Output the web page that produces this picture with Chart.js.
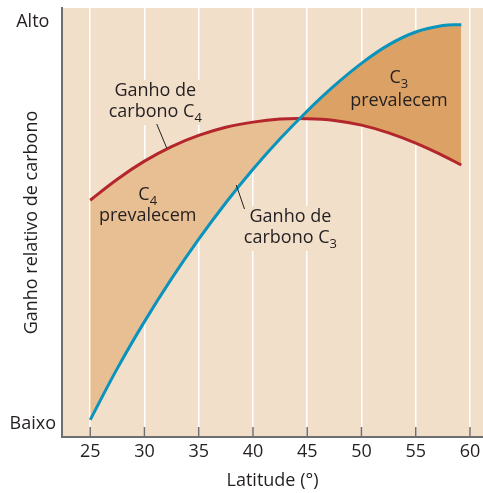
<!DOCTYPE html>
<html>
<head>
<meta charset="utf-8">
<script src="https://cdn.jsdelivr.net/npm/chart.js@4/dist/chart.umd.min.js"></script>
<style>
  html, body { margin: 0; padding: 0; background: #fff; }
  #grafico { display: block; }
</style>
</head>
<body>
<canvas id="grafico" width="483" height="493"></canvas>
<script>
// dados (escala relativa 0-100)
const latitudes = [25, 27.5, 30, 32.5, 35, 37.5, 40, 42.5, 45, 47.5, 50, 52.5, 55, 57.5, 59.2];
const ganhoC4 = [55.2, 60.1, 64.3, 67.7, 70.3, 72.2, 73.4, 74.1, 74.2, 73.8, 72.7, 70.9, 68.5, 65.6, 63.4];
const ganhoC3 = [4.0, 16.0, 26.9, 36.9, 46.1, 54.6, 62.4, 69.5, 76.0, 81.9, 87.1, 91.4, 94.4, 95.9, 96.1];
const xTicks = [25, 30, 35, 40, 45, 50, 55, 60];
const yTicks = [3.0, 96.7];
const yLabels = ["Baixo", "Alto"];

const corFundo = "#f2dfca";
const corTexto = "#231f20";
const corEixo = "#6d6e70";
const fonte = "'Open Sans', 'Noto Sans', sans-serif";

// textos dentro do gráfico (posição em coordenadas de dados: latitude, valor)
const etiquetas = [
  { linhas: [{ t: "Ganho de", lat: 31.0, val: 79.5 }, { t: "carbono C", sub: "4", lat: 31.0, val: 74.6 }], fundo: true },
  { linhas: [{ t: "C", sub: "4", lat: 30.3, val: 55.2 }, { t: "prevalecem", lat: 30.3, val: 50.3 }] },
  { linhas: [{ t: "Ganho de", lat: 43.45, val: 50.1 }, { t: "carbono C", sub: "3", lat: 43.45, val: 45.2 }], fundo: true },
  { linhas: [{ t: "C", sub: "3", lat: 53.45, val: 82.5 }, { t: "prevalecem", lat: 53.45, val: 77.2 }] }
];
const ponteiros = [
  [31.13, 72.96, 32.05, 67.37],
  [38.46, 58.74, 39.22, 53.15]
];

function medir(ctx, l) {
  ctx.font = "18px " + fonte;
  let w = ctx.measureText(l.t).width;
  if (l.sub) {
    ctx.font = "13px " + fonte;
    w += ctx.measureText(l.sub).width;
  }
  return w;
}

const pluginFundo = {
  id: "fundo",
  beforeDraw(chart) {
    const { ctx, chartArea: a } = chart;
    ctx.save();
    ctx.fillStyle = corFundo;
    ctx.fillRect(a.left, a.top, a.right - a.left, a.bottom - a.top);
    ctx.restore();
  },
  beforeDatasetsDraw(chart) {
    // caixas que escondem a grade atrás dos rótulos
    const { ctx, scales } = chart;
    ctx.save();
    ctx.fillStyle = corFundo;
    etiquetas.filter(e => e.fundo).forEach(e => {
      e.linhas.forEach(l => {
        const w = medir(ctx, l);
        const x = scales.x.getPixelForValue(l.lat);
        const y = scales.y.getPixelForValue(l.val);
        ctx.fillRect(x - w / 2 - 8, y - 16, w + 16, 24);
      });
    });
    ctx.restore();
  },
  afterDatasetsDraw(chart) {
    const { ctx, scales, chartArea: a } = chart;
    ctx.save();
    // marcas dos ticks, para dentro
    ctx.strokeStyle = corEixo;
    ctx.lineWidth = 1.5;
    xTicks.forEach(v => {
      const x = scales.x.getPixelForValue(v);
      ctx.beginPath();
      ctx.moveTo(x, a.bottom);
      ctx.lineTo(x, a.bottom - 10);
      ctx.stroke();
    });
    // ponteiros
    ctx.strokeStyle = corTexto;
    ctx.lineWidth = 1;
    ponteiros.forEach(p => {
      ctx.beginPath();
      ctx.moveTo(scales.x.getPixelForValue(p[0]), scales.y.getPixelForValue(p[1]));
      ctx.lineTo(scales.x.getPixelForValue(p[2]), scales.y.getPixelForValue(p[3]));
      ctx.stroke();
    });
    // textos
    ctx.fillStyle = corTexto;
    ctx.textBaseline = "alphabetic";
    ctx.textAlign = "left";
    etiquetas.forEach(e => {
      e.linhas.forEach(l => {
        const w = medir(ctx, l);
        const x = scales.x.getPixelForValue(l.lat) - w / 2;
        const y = scales.y.getPixelForValue(l.val);
        ctx.font = "18px " + fonte;
        ctx.fillText(l.t, x, y);
        if (l.sub) {
          const wt = ctx.measureText(l.t).width;
          ctx.font = "13px " + fonte;
          ctx.fillText(l.sub, x + wt, y + 5);
        }
      });
    });
    ctx.restore();
  }
};

const ctx = document.getElementById("grafico").getContext("2d");
new Chart(ctx, {
  type: "line",
  data: {
    datasets: [
      {
        label: "Ganho de carbono C4",
        data: latitudes.map((x, i) => ({ x, y: ganhoC4[i] })),
        borderColor: "#b3262b",
        borderWidth: 3,
        pointRadius: 0,
        tension: 0.4,
        fill: false,
        order: 1
      },
      {
        label: "Ganho de carbono C3",
        data: latitudes.map((x, i) => ({ x, y: ganhoC3[i] })),
        borderColor: "#0993bd",
        borderWidth: 3,
        pointRadius: 0,
        tension: 0.4,
        fill: { target: 0, above: "#dca265", below: "#e8bf93" },
        order: 0
      }
    ]
  },
  options: {
    responsive: false,
    animation: false,
    layout: { padding: { top: 8, right: 0, left: 0, bottom: 0 } },
    plugins: {
      legend: { display: false },
      tooltip: { enabled: false },
      filler: { drawTime: "beforeDatasetsDraw" }
    },
    scales: {
      x: {
        type: "linear",
        min: 22.4,
        max: 61.2,
        afterBuildTicks: s => { s.ticks = xTicks.map(v => ({ value: v })); },
        afterFit: s => { s.height = 56; s.paddingLeft = 0; s.paddingRight = 0; },
        ticks: { color: corTexto, font: { family: fonte, size: 18 }, padding: 4, maxRotation: 0 },
        grid: { color: "#ffffff", lineWidth: 1.5, drawTicks: false },
        border: { color: corEixo, width: 2 },
        title: { display: true, text: "Latitude (°)", color: corTexto, font: { family: fonte, size: 18 }, padding: { top: 0, bottom: 1 } }
      },
      y: {
        min: 0,
        max: 100,
        afterBuildTicks: s => { s.ticks = yTicks.map(v => ({ value: v })); },
        afterFit: s => { s.width = 62; s.paddingTop = 0; s.paddingBottom = 0; },
        ticks: { color: corTexto, font: { family: fonte, size: 18 }, padding: 6, crossAlign: "center", callback: (v, i) => yLabels[i] },
        grid: { drawOnChartArea: false, drawTicks: false },
        border: { color: corEixo, width: 2 },
        title: { display: true, text: "Ganho relativo de carbono", color: corTexto, font: { family: fonte, size: 18 }, padding: { top: 21, bottom: 0 } }
      }
    }
  },
  plugins: [pluginFundo]
});
</script>
</body>
</html>
